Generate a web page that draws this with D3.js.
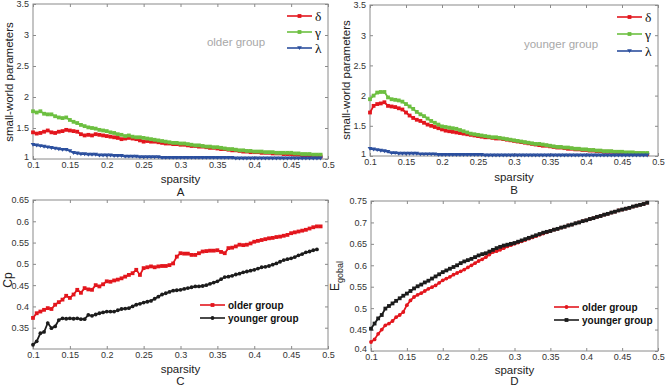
<!DOCTYPE html>
<html><head><meta charset="utf-8">
<script src="https://cdn.jsdelivr.net/npm/d3@7"></script>
<style>body{margin:0;background:#fff}svg{display:block}</style>
</head><body>
<svg id="c" width="666" height="387"></svg>
<script>
const sparsity = [0.100,0.105,0.110,0.115,0.120,0.125,0.130,0.135,0.140,0.145,
0.150,0.155,0.160,0.165,0.170,0.175,0.180,0.185,0.190,0.195,
0.200,0.205,0.210,0.215,0.220,0.225,0.230,0.235,0.240,0.245,
0.250,0.255,0.260,0.265,0.270,0.275,0.280,0.285,0.290,0.295,
0.300,0.305,0.310,0.315,0.320,0.325,0.330,0.335,0.340,0.345,
0.350,0.355,0.360,0.365,0.370,0.375,0.380,0.385,0.390,0.395,
0.400,0.405,0.410,0.415,0.420,0.425,0.430,0.435,0.440,0.445,
0.450,0.455,0.460,0.465,0.470,0.475,0.480,0.485,0.490];
const xTicks = [0.1,0.15,0.2,0.25,0.3,0.35,0.4,0.45,0.5];
const swTicks = [1,1.5,2,2.5,3,3.5];
const cpTicks = [0.35,0.4,0.45,0.5,0.55,0.6,0.65];
const egTicks = [0.4,0.45,0.5,0.55,0.6,0.65,0.7,0.75];

// Panel A (older group)
const olderDelta = [1.43,1.41,1.42,1.44,1.46,1.43,1.42,1.44,1.45,1.47,
1.46,1.45,1.44,1.40,1.38,1.39,1.38,1.40,1.39,1.38,
1.37,1.36,1.35,1.34,1.32,1.33,1.34,1.33,1.32,1.30,
1.28,1.29,1.28,1.28,1.27,1.26,1.25,1.25,1.24,1.24,
1.23,1.23,1.22,1.21,1.21,1.20,1.20,1.19,1.18,1.18,
1.17,1.16,1.16,1.15,1.14,1.14,1.13,1.12,1.12,1.11,
1.11,1.11,1.10,1.10,1.10,1.09,1.09,1.09,1.08,1.08,
1.08,1.07,1.07,1.06,1.06,1.05,1.05,1.04,1.04];
const olderGamma = [1.77,1.75,1.77,1.73,1.72,1.72,1.69,1.67,1.66,1.67,
1.63,1.60,1.58,1.55,1.53,1.51,1.50,1.49,1.47,1.46,
1.45,1.43,1.42,1.40,1.39,1.37,1.38,1.36,1.35,1.35,
1.34,1.33,1.32,1.31,1.30,1.29,1.28,1.27,1.26,1.26,
1.25,1.25,1.24,1.23,1.22,1.22,1.21,1.20,1.20,1.19,
1.19,1.18,1.17,1.16,1.16,1.15,1.14,1.14,1.13,1.13,
1.12,1.12,1.12,1.11,1.11,1.11,1.10,1.10,1.10,1.10,
1.10,1.09,1.09,1.08,1.08,1.08,1.07,1.07,1.07];
const olderLambda = [1.23,1.22,1.21,1.20,1.19,1.18,1.17,1.16,1.15,1.15,
1.13,1.10,1.09,1.08,1.08,1.07,1.07,1.07,1.06,1.06,
1.06,1.06,1.05,1.05,1.05,1.04,1.04,1.04,1.04,1.03,
1.03,1.03,1.03,1.03,1.03,1.02,1.02,1.02,1.02,1.02,
1.02,1.02,1.02,1.02,1.02,1.02,1.02,1.02,1.02,1.02,
1.02,1.02,1.02,1.02,1.02,1.01,1.01,1.01,1.01,1.01,
1.01,1.01,1.01,1.01,1.01,1.01,1.01,1.01,1.01,1.01,
1.01,1.01,1.01,1.01,1.01,1.01,1.01,1.01,1.01];

// Panel B (younger group)
const youngerDelta = [1.72,1.83,1.86,1.87,1.89,1.83,1.82,1.81,1.79,1.77,
1.72,1.67,1.63,1.60,1.58,1.55,1.52,1.50,1.48,1.46,
1.44,1.42,1.41,1.40,1.39,1.38,1.37,1.36,1.35,1.34,
1.33,1.32,1.31,1.31,1.30,1.29,1.29,1.28,1.27,1.26,
1.25,1.24,1.23,1.22,1.21,1.20,1.19,1.18,1.17,1.17,
1.16,1.15,1.14,1.14,1.13,1.12,1.12,1.11,1.11,1.10,
1.10,1.09,1.09,1.08,1.08,1.07,1.07,1.07,1.06,1.06,
1.06,1.05,1.05,1.04,1.04,1.04,1.03,1.03];
const youngerGamma = [1.94,2.00,2.05,2.06,2.06,1.97,1.94,1.93,1.92,1.90,
1.86,1.82,1.78,1.73,1.69,1.66,1.62,1.58,1.55,1.52,
1.49,1.48,1.47,1.46,1.45,1.43,1.41,1.39,1.37,1.36,
1.35,1.34,1.33,1.32,1.31,1.31,1.30,1.29,1.28,1.27,
1.26,1.25,1.24,1.23,1.22,1.21,1.20,1.20,1.19,1.18,
1.17,1.16,1.15,1.15,1.14,1.14,1.13,1.12,1.12,1.11,
1.11,1.10,1.10,1.09,1.09,1.08,1.08,1.08,1.07,1.07,
1.07,1.06,1.06,1.06,1.05,1.05,1.05,1.05];
const youngerLambda = [1.12,1.11,1.10,1.09,1.08,1.07,1.05,1.05,1.04,1.04,
1.04,1.04,1.04,1.04,1.03,1.03,1.03,1.03,1.03,1.02,
1.02,1.02,1.02,1.02,1.02,1.02,1.02,1.02,1.02,1.02,
1.02,1.02,1.01,1.01,1.01,1.01,1.01,1.01,1.01,1.01,
1.01,1.01,1.01,1.01,1.01,1.01,1.01,1.01,1.01,1.01,
1.01,1.01,1.01,1.01,1.01,1.01,1.01,1.01,1.01,1.01,
1.01,1.01,1.01,1.01,1.01,1.01,1.01,1.01,1.01,1.01,
1.01,1.01,1.01,1.01,1.01,1.01,1.01,1.01];

// Panel C (Cp)
const cpOlder = [0.373,0.384,0.388,0.392,0.396,0.394,0.404,0.410,0.416,0.425,
0.420,0.428,0.439,0.432,0.443,0.440,0.439,0.450,0.447,0.452,
0.459,0.458,0.461,0.463,0.466,0.470,0.474,0.478,0.486,0.474,
0.490,0.492,0.494,0.492,0.494,0.495,0.495,0.497,0.501,0.517,
0.525,0.524,0.524,0.521,0.521,0.525,0.529,0.530,0.531,0.531,
0.532,0.528,0.525,0.537,0.538,0.541,0.545,0.544,0.545,0.548,
0.552,0.554,0.556,0.558,0.560,0.561,0.563,0.564,0.566,0.568,
0.572,0.574,0.576,0.578,0.580,0.583,0.586,0.588,0.588];
const cpYounger = [0.310,0.318,0.337,0.340,0.361,0.349,0.353,0.368,0.372,0.371,
0.372,0.371,0.372,0.370,0.370,0.380,0.378,0.381,0.384,0.386,
0.388,0.388,0.388,0.391,0.394,0.395,0.396,0.400,0.404,0.406,
0.409,0.411,0.413,0.418,0.423,0.428,0.431,0.434,0.437,0.438,
0.439,0.441,0.443,0.445,0.447,0.447,0.448,0.450,0.453,0.456,
0.459,0.464,0.469,0.470,0.472,0.475,0.477,0.480,0.482,0.484,
0.486,0.489,0.492,0.493,0.495,0.498,0.501,0.505,0.509,0.511,
0.513,0.516,0.520,0.523,0.527,0.529,0.532,0.534];

// Panel D (E global)
const egOlder = [0.421,0.427,0.440,0.450,0.460,0.464,0.470,0.479,0.484,0.491,
0.507,0.518,0.526,0.531,0.535,0.540,0.545,0.549,0.553,0.559,
0.565,0.569,0.573,0.578,0.582,0.586,0.590,0.595,0.600,0.605,
0.610,0.614,0.619,0.625,0.631,0.633,0.636,0.640,0.644,0.647,
0.650,0.653,0.656,0.659,0.662,0.665,0.668,0.671,0.674,0.677,
0.680,0.683,0.685,0.688,0.690,0.693,0.695,0.698,0.700,0.703,
0.705,0.708,0.710,0.713,0.715,0.718,0.720,0.723,0.725,0.728,
0.730,0.732,0.734,0.737,0.739,0.741,0.743,0.746];
const egYounger = [0.452,0.464,0.476,0.484,0.499,0.505,0.511,0.517,0.523,0.529,
0.534,0.540,0.546,0.551,0.555,0.560,0.564,0.569,0.574,0.579,
0.584,0.588,0.592,0.596,0.600,0.605,0.609,0.612,0.615,0.619,
0.623,0.626,0.628,0.632,0.636,0.640,0.643,0.646,0.648,0.650,
0.652,0.655,0.658,0.661,0.664,0.667,0.670,0.673,0.676,0.678,
0.680,0.683,0.685,0.688,0.690,0.693,0.695,0.698,0.700,0.703,
0.705,0.708,0.710,0.713,0.715,0.718,0.720,0.723,0.725,0.728,
0.730,0.732,0.734,0.737,0.739,0.741,0.743,0.746];

const RED = "#e3161d", GREEN = "#6cbf40", BLUE = "#2b4f9e", BLACK = "#1c1c1c";
const SANS = "Liberation Sans, Arial, sans-serif";
const SERIF = "Liberation Serif, Times New Roman, serif";
const svg = d3.select("#c");

function marker(g, type, x, y, color) {
  if (type === "square") {
    g.append("rect").attr("x", x - 1.9).attr("y", y - 1.9).attr("width", 3.8).attr("height", 3.8).attr("fill", color);
  } else if (type === "circle") {
    g.append("circle").attr("cx", x).attr("cy", y).attr("r", 1.9).attr("fill", color);
  } else {
    g.append("path").attr("d", `M${x-2.4},${y-1.8}L${x+2.4},${y-1.8}L${x},${y+2.1}Z`).attr("fill", color);
  }
}

function panel(cfg) {
  const x = d3.scaleLinear().domain([0.1, 0.5]).range([cfg.x0, cfg.x1]);
  const y = d3.scaleLinear().domain(cfg.yDomain).range([cfg.y1, cfg.y0]);
  const g = svg.append("g");
  g.append("rect").attr("x", cfg.x0).attr("y", cfg.y0).attr("width", cfg.x1 - cfg.x0).attr("height", cfg.y1 - cfg.y0)
    .attr("fill", "none").attr("stroke", "#8a8a8a").attr("stroke-width", 1);
  const fmt = d => String(+d.toFixed(2));
  const axB = d3.axisBottom(x).tickValues(xTicks).tickSize(-3).tickPadding(3).tickFormat(fmt);
  const axT = d3.axisTop(x).tickValues(xTicks).tickSize(-3).tickFormat("");
  const axL = d3.axisLeft(y).tickValues(cfg.yTicks).tickSize(-3).tickPadding(4).tickFormat(fmt);
  const axR = d3.axisRight(y).tickValues(cfg.yTicks).tickSize(-3).tickFormat("");
  const style = s => { s.select(".domain").remove(); s.selectAll("line").attr("stroke", "#8a8a8a");
    s.selectAll("text").attr("fill", "#333").style("font-family", SANS).style("font-size", "9px"); };
  g.append("g").attr("transform", `translate(0,${cfg.y1})`).call(axB).call(style);
  g.append("g").attr("transform", `translate(0,${cfg.y0})`).call(axT).call(style);
  const gl = g.append("g").attr("transform", `translate(${cfg.x0},0)`).call(axL).call(style);
  // nudge the lowest y label up a little so it clears the first x label
  gl.selectAll(".tick").filter(d => d === cfg.yDomain[0]).select("text").attr("dy", "0.1em");
  g.append("g").attr("transform", `translate(${cfg.x1},0)`).call(axR).call(style);

  const line = d3.line().x((d, i) => x(sparsity[i])).y(d => y(d));
  cfg.series.forEach(s => {
    g.append("path").datum(s.values).attr("d", line).attr("fill", "none").attr("stroke", s.color).attr("stroke-width", 1.8);
    const mg = g.append("g");
    s.values.forEach((v, i) => marker(mg, s.marker, x(sparsity[i]), y(v), s.color));
  });
  cfg.series.forEach((s, i) => {
    const ly = cfg.leg.y + i * cfg.leg.dy;
    g.append("line").attr("x1", cfg.leg.x).attr("x2", cfg.leg.x + 25).attr("y1", ly).attr("y2", ly)
      .attr("stroke", s.color).attr("stroke-width", 1.6);
    marker(g, s.marker, cfg.leg.x + 12.5, ly, s.color);
    g.append("text").attr("x", cfg.leg.x + 28).attr("y", ly + cfg.leg.off).text(s.name)
      .style("font-family", cfg.leg.font).style("font-size", cfg.leg.size).style("font-weight", cfg.leg.weight)
      .attr("fill", "#111");
  });
  g.append("text").attr("x", (cfg.x0 + cfg.x1) / 2).attr("y", cfg.labY).attr("text-anchor", "middle")
    .text("sparsity").style("font-family", SANS).style("font-size", "11.5px").attr("fill", "#222");
  g.append("text").attr("x", (cfg.x0 + cfg.x1) / 2).attr("y", cfg.letY).attr("text-anchor", "middle")
    .text(cfg.letter).style("font-family", SANS).style("font-size", "11.5px").attr("fill", "#222");
  return {g, x, y};
}

const A = panel({x0: 33, x1: 328, y0: 4, y1: 159, yDomain: [1, 3.5], yTicks: swTicks, letter: "A", labY: 183, letY: 196,
  series: [{name: "δ", values: olderDelta, color: RED, marker: "square"},
           {name: "γ", values: olderGamma, color: GREEN, marker: "square"},
           {name: "λ", values: olderLambda, color: BLUE, marker: "tri"}],
  leg: {x: 287, y: 16, dy: 16, off: 4.5, font: SERIF, size: "13.5px", weight: "normal"}});
A.g.append("text").attr("x", 236).attr("y", 46).attr("text-anchor", "middle").text("older group")
  .style("font-family", SANS).style("font-size", "11.5px").attr("fill", "#a8a8a8");
A.g.append("text").attr("transform", "translate(13,82) rotate(-90)").attr("text-anchor", "middle")
  .text("small-world parameters").style("font-family", SANS).style("font-size", "11.5px").attr("fill", "#222");

const B = panel({x0: 370, x1: 658, y0: 5, y1: 156, yDomain: [1, 3.5], yTicks: swTicks, letter: "B", labY: 181, letY: 194,
  series: [{name: "δ", values: youngerDelta, color: RED, marker: "square"},
           {name: "γ", values: youngerGamma, color: GREEN, marker: "square"},
           {name: "λ", values: youngerLambda, color: BLUE, marker: "tri"}],
  leg: {x: 617, y: 17, dy: 17, off: 4.5, font: SERIF, size: "13.5px", weight: "normal"}});
B.g.append("text").attr("x", 561).attr("y", 48).attr("text-anchor", "middle").text("younger group")
  .style("font-family", SANS).style("font-size", "11.5px").attr("fill", "#a8a8a8");
B.g.append("text").attr("transform", "translate(350,80) rotate(-90)").attr("text-anchor", "middle")
  .text("small-world parameters").style("font-family", SANS).style("font-size", "11.5px").attr("fill", "#222");

const C = panel({x0: 33, x1: 328, y0: 200, y1: 349, yDomain: [0.3, 0.65], yTicks: cpTicks, letter: "C", labY: 373, letY: 385,
  series: [{name: "older group", values: cpOlder, color: RED, marker: "square"},
           {name: "younger group", values: cpYounger, color: BLACK, marker: "circle"}],
  leg: {x: 200, y: 305, dy: 13, off: 3.5, font: SANS, size: "10px", weight: "bold"}});
C.g.append("text").attr("transform", "translate(12,280) rotate(-90)").attr("text-anchor", "middle")
  .text("Cp").style("font-family", SANS).style("font-size", "12px").attr("fill", "#222");

const D = panel({x0: 371, x1: 658, y0: 201, y1: 351, yDomain: [0.4, 0.75], yTicks: egTicks, letter: "D", labY: 374, letY: 385,
  series: [{name: "older group", values: egOlder, color: RED, marker: "circle"},
           {name: "younger group", values: egYounger, color: BLACK, marker: "square"}],
  leg: {x: 554, y: 307, dy: 13, off: 3.5, font: SANS, size: "10px", weight: "bold"}});
const eg = D.g.append("text").attr("transform", "translate(339,276) rotate(-90)").attr("text-anchor", "middle")
  .style("font-family", SANS).style("font-size", "12px").attr("fill", "#222");
eg.append("tspan").text("E");
eg.append("tspan").attr("dy", 4).style("font-size", "9px").text("gobal");
</script>
</body></html>
